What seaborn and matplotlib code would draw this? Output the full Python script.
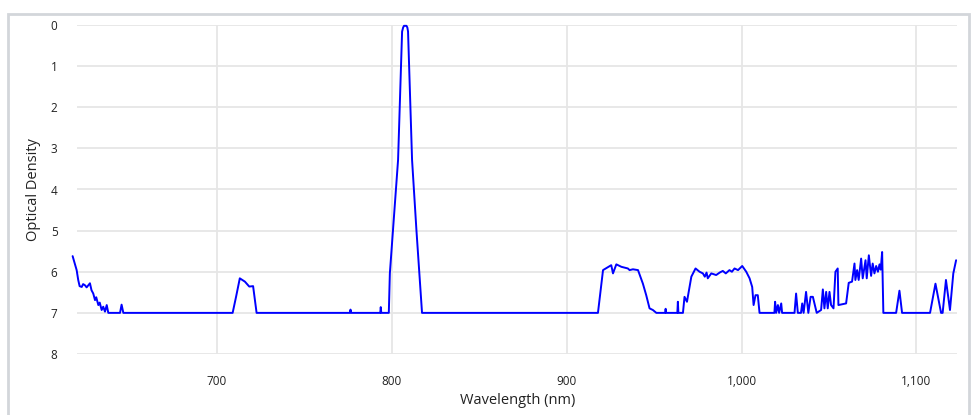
import matplotlib
matplotlib.use("Agg")
import matplotlib.pyplot as plt
import matplotlib.ticker as mticker
from matplotlib.patches import Rectangle
import seaborn as sns
import pandas as pd

wavelength = [
    617.5, 619.8, 620.7, 621.5, 622.7, 623.5, 624.6, 625.5, 627.4, 628.3,
    629.3, 630.3, 631.0, 632.2, 633.0, 634.1, 635.0, 636.0, 637.0, 637.9,
    644.6, 645.5, 646.5, 709.0, 711.0, 713.1, 716.0, 718.5, 720.7, 722.7,
    776.0, 776.4, 776.8, 793.4, 793.7, 794.0, 798.3, 798.9, 800.7, 803.6,
    805.9, 806.5, 807.0, 808.4, 808.9, 809.3, 811.6, 814.1, 816.6, 817.3,
    917.9, 920.8, 925.5, 926.5, 928.4, 931.3, 935.0, 936.0, 937.9, 940.8,
    943.6, 945.5, 947.4, 949.3, 951.3, 956.3, 956.6, 956.9, 963.3, 963.6,
    963.9, 966.5, 967.4, 968.8, 971.3, 973.7, 976.0, 977.9, 979.0, 980.0,
    980.7, 982.7, 985.5, 987.5, 989.3, 991.0, 993.1, 994.5, 996.0, 998.0,
    1000.4, 1002.7, 1004.6, 1006.1, 1006.9, 1008.0, 1009.3, 1010.3, 1018.8, 1019.2,
    1019.8, 1020.8, 1021.5, 1022.7, 1023.2, 1030.3, 1031.2, 1032.2, 1034.0, 1034.7,
    1035.5, 1036.9, 1038.2, 1039.5, 1040.8, 1043.0, 1045.5, 1046.5, 1047.4, 1048.4,
    1049.3, 1050.3, 1051.2, 1052.6, 1053.7, 1055.0, 1055.4, 1059.8, 1061.3, 1063.2,
    1064.6, 1065.1, 1066.1, 1067.0, 1068.4, 1069.3, 1070.9, 1071.6, 1072.8, 1074.1,
    1075.0, 1076.0, 1077.0, 1078.0, 1078.9, 1079.6, 1080.4, 1081.1, 1088.4, 1090.3,
    1091.8, 1107.8, 1110.9, 1114.1, 1115.0, 1116.9, 1119.2, 1121.1, 1122.7,
]
optical_density = [
    5.62, 5.96, 6.20, 6.35, 6.37, 6.30, 6.33, 6.38, 6.28, 6.45,
    6.53, 6.69, 6.62, 6.81, 6.75, 6.93, 6.85, 6.97, 6.81, 7.00,
    7.00, 6.80, 7.00, 7.00, 6.60, 6.16, 6.24, 6.36, 6.35, 7.00,
    7.00, 6.92, 7.00, 7.00, 6.86, 7.00, 7.00, 6.04, 4.99, 3.28,
    0.16, 0.06, 0.02, 0.02, 0.06, 0.16, 3.28, 4.99, 6.53, 7.00,
    7.00, 5.96, 5.84, 6.04, 5.82, 5.88, 5.92, 5.96, 5.94, 5.96,
    6.29, 6.57, 6.89, 6.93, 7.00, 7.00, 6.90, 7.00, 7.00, 6.73,
    7.00, 7.00, 6.61, 6.73, 6.12, 5.92, 6.00, 6.04, 6.12, 6.02,
    6.16, 6.04, 6.08, 6.02, 5.98, 6.04, 5.96, 6.00, 5.92, 5.96,
    5.86, 6.00, 6.16, 6.37, 6.81, 6.57, 6.57, 7.00, 7.00, 6.73,
    7.00, 6.81, 7.00, 6.77, 7.00, 7.00, 6.53, 7.00, 7.00, 6.77,
    7.00, 6.49, 7.00, 6.61, 6.61, 7.00, 6.93, 6.43, 6.89, 6.49,
    6.89, 6.49, 6.81, 6.89, 6.00, 5.92, 6.81, 6.77, 6.27, 6.24,
    5.80, 6.20, 5.96, 6.20, 5.68, 6.16, 5.72, 6.16, 5.60, 6.10,
    5.80, 6.04, 5.86, 6.00, 5.82, 5.95, 5.52, 7.00, 7.00, 6.46,
    7.00, 7.00, 6.29, 7.00, 7.00, 6.20, 6.93, 6.04, 5.72,
]
x_ticks = [700, 800, 900, 1000, 1100]
y_ticks = [0, 1, 2, 3, 4, 5, 6, 7, 8]

df = pd.DataFrame({"Wavelength (nm)": wavelength, "Optical Density": optical_density})

sns.set_theme(style="white")
plt.rcParams["font.family"] = ["Open Sans", "DejaVu Sans"]

fig = plt.figure(figsize=(9.79, 4.15), dpi=100)
W, H = 979, 415
ax = fig.add_axes([77 / W, 1 - 354 / H, (957.5 - 77) / W, (354 - 25) / H])

# outer frame
fig.patches.append(Rectangle((8 / W, -0.05), (969 - 8) / W, (1 - 14 / H) + 0.05,
                             transform=fig.transFigure, fill=False,
                             edgecolor="#d3d6da", linewidth=2))

sns.lineplot(data=df, x="Wavelength (nm)", y="Optical Density", ax=ax,
             color="#0000ff", linewidth=1.4, sort=False, estimator=None)
for l in ax.lines:
    l.set_clip_on(False)

ax.set_xlim(620, 1123.5)
ax.set_ylim(8, 0)
ax.set_xticks(x_ticks)
ax.set_yticks(y_ticks)
ax.xaxis.set_major_formatter(mticker.FuncFormatter(lambda v, p: f"{int(v):,}"))
ax.grid(True, color="#e6e6e6", linewidth=1.3)
ax.set_axisbelow(True)
for s in ax.spines.values():
    s.set_visible(False)
ax.tick_params(axis="both", length=0, labelsize=8.5, colors="#222222")
ax.tick_params(axis="y", pad=14)
ax.tick_params(axis="x", pad=15)
ax.set_xlabel("Wavelength (nm)", fontsize=10.5, color="#222222", labelpad=4)
ax.set_ylabel("Optical Density", fontsize=10.5, color="#222222", labelpad=7)

fig.savefig("out.png", dpi=100)
